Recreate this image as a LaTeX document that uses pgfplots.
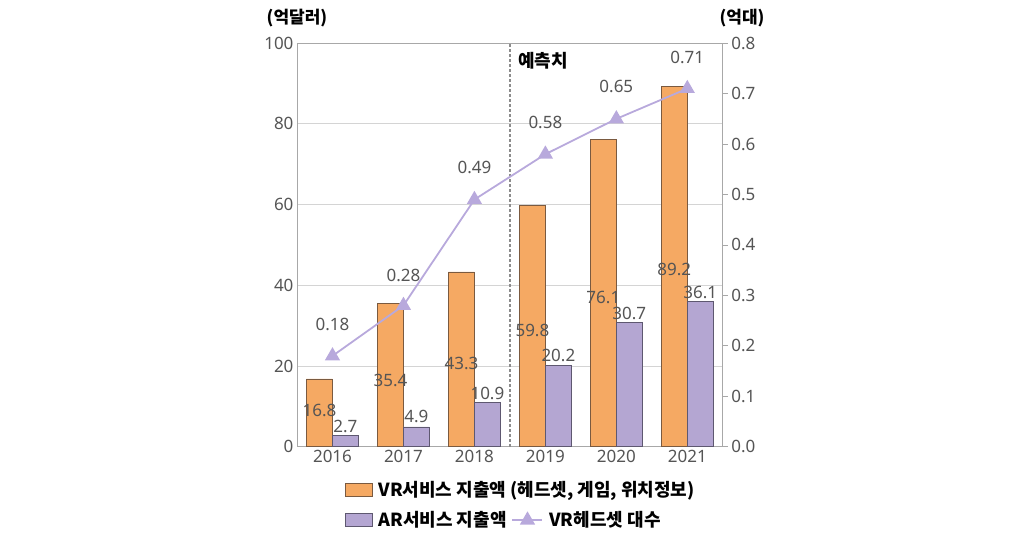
\documentclass[border=0pt]{standalone}
\usepackage{pgfplots}
\pgfplotsset{compat=1.18}
\usepackage{fontspec}
\setmainfont{Noto Sans}
\newfontfamily\kr{Noto Sans CJK KR}
\definecolor{vrbar}{HTML}{F5A963}
\definecolor{vredge}{HTML}{7A5A40}
\definecolor{arbar}{HTML}{B4A6D2}
\definecolor{aredge}{HTML}{5E5870}
\definecolor{linec}{HTML}{B8A9DC}
\definecolor{txt}{HTML}{555555}
\definecolor{gridc}{HTML}{D4D4D4}
\definecolor{axc}{HTML}{A8A8A8}
\definecolor{dashc}{HTML}{8C8C8C}
\tikzset{lab/.style={font=\fontsize{17}{17}\selectfont, text=txt}}
\pgfplotsset{longline legend/.style={legend image code/.code={\draw[mark repeat=2,mark phase=2,##1] plot coordinates {(0pt,0pt) (15pt,0pt) (30pt,0pt)};}}}
\begin{document}
\begin{tikzpicture}
\useasboundingbox (0,0) rectangle (1021pt,536pt);
\pgfplotsset{
  base/.style={width=425.8pt,height=403.5pt,scale only axis,
    at={(297pt,89.3pt)}, anchor=south west, xmin=-0.5, xmax=5.5,
    /pgf/number format/assume math mode=true,
    tick label style={font=\fontsize{17}{17}\selectfont, text=txt},
    legend style={draw=none, fill=none, inner sep=0pt, outer sep=0pt,
      font=\kr\bfseries\fontsize{18}{18}\selectfont, anchor=west,
      /tikz/every odd column/.append style={column sep=4pt},
      /tikz/every even column/.append style={column sep=3pt}},
  },
}
\begin{axis}[base, ymin=0, ymax=100, ytick={0,20,...,100},
  xtick={0,...,5}, xticklabels={2016,2017,2018,2019,2020,2021},
  ymajorgrids, grid style={gridc, line width=0.8pt},
  axis line style={axc, line width=0.8pt},
  major tick length=0pt,
  legend style={at={(0.112,-0.107)}}]
\addlegendimage{legend image code/.code={\draw[fill=vrbar, draw=vredge, line width=0.8pt] (0pt,-6.5pt) rectangle (27pt,6.5pt);}}
\addlegendentry{VR서비스 지출액 (헤드셋, 게임, 위치정보)}
\addplot[ybar, bar width=26pt, bar shift=-13pt, fill=vrbar, draw=vredge, line width=0.8pt, forget plot]
  coordinates {(0,16.8)(1,35.4)(2,43.3)(3,59.8)(4,76.1)(5,89.2)};
\addplot[ybar, bar width=26pt, bar shift=13pt, fill=arbar, draw=aredge, line width=0.8pt, forget plot]
  coordinates {(0,2.7)(1,4.9)(2,10.9)(3,20.2)(4,30.7)(5,36.1)};
\addplot[dashc, line width=1.5pt, dash pattern=on 2.5pt off 2.5pt, forget plot]
  coordinates {(2.5,0)(2.5,100)};
% bar labels
\node[lab] at (axis cs:-0.183,9.1) {16.8};
\node[lab] at (axis cs:0.817,16.5) {35.4};
\node[lab] at (axis cs:1.817,20.7) {43.3};
\node[lab] at (axis cs:2.817,28.9) {59.8};
\node[lab] at (axis cs:3.817,37.1) {76.1};
\node[lab] at (axis cs:4.817,43.8) {89.2};
\node[lab] at (axis cs:0.183,4.9) {2.7};
\node[lab] at (axis cs:1.183,7.6) {4.9};
\node[lab] at (axis cs:2.183,13.3) {10.9};
\node[lab] at (axis cs:3.183,22.5) {20.2};
\node[lab] at (axis cs:4.183,33.1) {30.7};
\node[lab] at (axis cs:5.183,38.1) {36.1};
\node[font=\kr\bfseries\fontsize{18}{18}\selectfont, anchor=west] at (axis cs:2.57,95.7) {예측치};
\end{axis}
\begin{axis}[base, ymin=0, ymax=0.8, ytick={0,0.1,...,0.8},
  axis y line*=right, axis x line=none,
  axis line style={axc, line width=0.8pt},
  ytick style={axc, line width=0.8pt}, tick align=outside, major tick length=5pt,
  yticklabel style={/pgf/number format/.cd, fixed, fixed zerofill, precision=1},
  legend columns=-1,
  legend style={at={(0.112,-0.182)}}]
\addlegendimage{legend image code/.code={\draw[fill=arbar, draw=aredge, line width=0.8pt] (0pt,-6.5pt) rectangle (27pt,6.5pt);}}
\addlegendentry{AR서비스 지출액}
\addplot[linec, line width=1.8pt, mark=triangle*, mark size=7pt, mark options={fill=linec, draw=linec}, longline legend]
  coordinates {(0,0.18)(1,0.28)(2,0.49)(3,0.58)(4,0.65)(5,0.71)};
\addlegendentry{VR헤드셋 대수}
\node[lab] at (axis cs:0,0.243) {0.18};
\node[lab] at (axis cs:1,0.340) {0.28};
\node[lab] at (axis cs:2,0.553) {0.49};
\node[lab] at (axis cs:3,0.642) {0.58};
\node[lab] at (axis cs:4,0.715) {0.65};
\node[lab] at (axis cs:5,0.772) {0.71};
\end{axis}
\node[font=\kr\bfseries\fontsize{17}{17}\selectfont] at (297pt,518pt) {(억달러)};
\node[font=\kr\bfseries\fontsize{17}{17}\selectfont] at (742pt,518pt) {(억대)};
\end{tikzpicture}
\end{document}
